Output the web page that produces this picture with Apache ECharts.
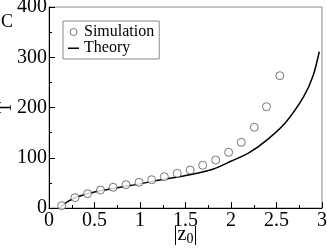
<!DOCTYPE html>
<html><head><meta charset="utf-8">
<script src="https://cdn.jsdelivr.net/npm/echarts@6/dist/echarts.min.js"></script>
<style>html,body{margin:0;padding:0;background:#fff}#c{width:327px;height:251px}</style>
</head><body><div id="c"></div>
<script>
const simX = [0.139, 0.285, 0.424, 0.566, 0.704, 0.846, 0.989, 1.128, 1.267, 1.409, 1.552, 1.689, 1.832, 1.974, 2.113, 2.256, 2.390, 2.537];
const simY = [4.6, 20.5, 28.5, 35.8, 41.2, 46.4, 51.1, 56.3, 62.3, 69.1, 75.6, 85, 95.5, 110.8, 130.7, 160.6, 201.6, 263.3];
const theoX = [0.12, 0.15, 0.2, 0.3, 0.4, 0.5, 0.6, 0.8, 1.0, 1.2, 1.4, 1.6, 1.8, 2.0, 2.2, 2.4, 2.6, 2.8, 2.9, 2.97];
const theoY = [0, 5, 12, 21.5, 27.5, 32, 35.5, 42, 48, 55, 61, 68, 77, 93, 110, 136, 170, 222, 262, 311];
const xTicks = [0, 0.5, 1, 1.5, 2, 2.5, 3];
const yTicks = [0, 100, 200, 300, 400];

const FONT = 'Liberation Serif';
const chart = echarts.init(document.getElementById('c'), null, {renderer: 'canvas'});
chart.setOption({
  animation: false,
  backgroundColor: '#fff',
  grid: {left: 49, top: 7, right: 5, bottom: 43, show: true, borderColor: '#888', borderWidth: 1,
         containLabel: false, outerBoundsMode: 'none'},
  graphic: [{type: 'text', left: 1, top: 13, style: {text: 'C', font: '18px "Liberation Serif"', fill: '#000'}}],
  legend: {
    orient: 'vertical', left: 63, top: 21, padding: [3, 5, 3, 5],
    itemWidth: 11, itemHeight: 7, itemGap: 0,
    borderColor: '#888', borderWidth: 1,
    textStyle: {fontFamily: FONT, fontSize: 16, color: '#000', lineHeight: 15},
    data: [
      {name: 'Simulation', icon: 'circle', itemStyle: {color: '#fff', borderColor: '#555', borderWidth: 1}},
      {name: 'Theory', icon: 'path://M0,0M0,3H11V4.5H0ZM11,7', itemStyle: {color: '#000', borderWidth: 0}}
    ]
  },
  xAxis: {
    type: 'value', min: xTicks[0], max: xTicks[xTicks.length - 1], interval: 0.5,
    name: '|z{sub|0}|', nameLocation: 'middle', nameGap: 15, nameMoveOverlap: false,
    nameTextStyle: {fontFamily: FONT, fontSize: 20, color: '#000', verticalAlign: 'top',
      rich: {sub: {fontFamily: FONT, fontSize: 14, verticalAlign: 'bottom', padding: [9, 0, 0, 0]}}},
    axisLine: {lineStyle: {color: '#000', width: 1}},
    axisTick: {inside: true, length: 6, lineStyle: {color: '#000'}},
    minorTick: {show: true, splitNumber: 2, length: 3, lineStyle: {color: '#000'}},
    splitLine: {show: false},
    axisLabel: {fontFamily: FONT, fontSize: 20, color: '#000', margin: 3,
      formatter: v => (xTicks.includes(v) ? String(v) : '')}
  },
  yAxis: {
    type: 'value', min: yTicks[0], max: yTicks[yTicks.length - 1], interval: 100,
    name: 'T', nameLocation: 'middle', nameGap: 34, nameMoveOverlap: false,
    nameTextStyle: {fontFamily: FONT, fontSize: 18, color: '#000'},
    axisLine: {show: true, lineStyle: {color: '#000', width: 1}},
    axisTick: {show: true, inside: true, length: 6, lineStyle: {color: '#000'}},
    minorTick: {show: true, splitNumber: 2, length: 3, lineStyle: {color: '#000'}},
    splitLine: {show: false},
    axisLabel: {fontFamily: FONT, fontSize: 20, color: '#000', margin: 2}
  },
  series: [
    {name: 'Simulation', type: 'scatter', symbol: 'circle', symbolSize: 8,
     itemStyle: {color: '#fff', borderColor: '#555', borderWidth: 1},
     data: simX.map((x, i) => [x, simY[i]]), z: 3},
    {name: 'Theory', type: 'line', symbol: 'none', smooth: 0.3,
     lineStyle: {color: '#000', width: 1.5}, itemStyle: {color: '#000'},
     data: theoX.map((x, i) => [x, theoY[i]]), z: 2}
  ]
});
</script></body></html>
